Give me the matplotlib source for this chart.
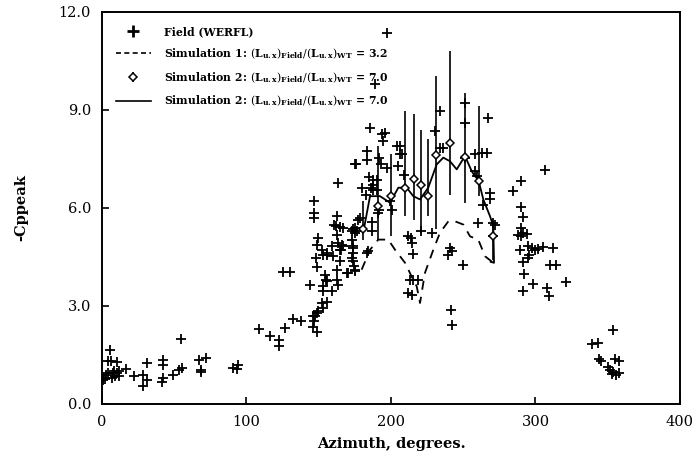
import matplotlib.pyplot as plt
from matplotlib.lines import Line2D

# field data (WERFL)
field_az = [0.5, 0.9, 2.1, 4.4, 6.7, 7.8, 9.0, 10.2, 11.5, 5.5, 4.4, 10.2, 16.4, 22.4, 28.6,
            30.9, 30.9, 28.6, 42.4, 42.4, 42.4, 41.3, 49.3, 53.3, 55.6, 54.7, 67.1, 71.8, 68.5,
            68.5, 90.9, 94.3, 93.2, 3.0, 8.0, 6.0, 12.0,
            108.5, 116.3, 122.7, 122.7, 126.6, 125.5, 130.1, 132.4, 137.8, 143.7, 146.5, 146.7,
            146.7, 145.8, 147.4, 146.7, 146.3, 148.6, 148.6, 149.7, 153.2, 152.0, 155.9, 152.7,
            154.3, 155.0, 155.9, 153.2, 159.0, 162.4, 163.6, 162.4, 148.1, 148.6, 148.6, 149.7,
            152.0, 155.9, 159.0, 155.9, 153.0, 159.7, 164.7, 165.9, 167.0, 164.7, 162.4, 162.9,
            160.6, 164.7, 167.0, 163.6, 175.1, 172.8, 173.9, 173.5, 172.8, 173.9, 170.5, 175.1,
            177.4, 173.9, 175.1, 169.8, 165.2, 163.6, 162.0,
            175.8, 183.2, 183.2, 185.5, 193.6, 195.8, 194.2, 203.9, 206.2, 191.9, 192.9, 197.0,
            205.1, 185.0, 187.8, 190.1, 187.3, 186.0, 187.8, 190.1, 191.9, 191.2, 178.5, 175.1,
            172.8, 176.2, 186.6, 186.6, 183.2, 184.3, 173.9, 174.4, 175.1, 200.5, 199.5, 212.0,
            213.6, 214.3, 215.4, 213.1, 215.4, 218.9, 212.0, 214.3, 220.6, 228.2, 230.4, 233.9,
            236.2, 240.8, 242.0, 239.7, 250.1, 241.3, 242.0, 251.2, 251.2, 251.2, 258.1, 262.8,
            266.2, 267.3, 258.1, 259.3, 260.4, 263.9, 268.5, 268.5, 270.8, 272.0, 270.8, 197.0,
            188.9, 206.2, 207.3, 233.9, 209.0, 180.0, 183.0,
            306.6, 289.7, 284.6, 289.7, 291.1, 289.7, 291.6, 288.2, 294.3, 289.7, 295.0, 297.4,
            299.7, 302.0, 305.4, 311.9, 289.3, 295.7, 295.0, 291.6, 310.0, 314.2, 292.0, 298.1,
            291.6, 307.7, 309.6, 321.1, 353.4, 338.9, 343.5, 344.2, 345.1, 355.0, 358.0, 350.4,
            351.6, 353.9, 355.7, 358.0, 352.7]
field_cp = [0.72, 0.79, 0.76, 0.94, 0.79, 0.94, 0.84, 0.96, 0.84, 1.64, 1.30, 1.28, 1.06, 0.86, 0.89,
            1.25, 0.72, 0.55, 1.33, 1.20, 0.79, 0.68, 0.89, 1.04, 1.09, 1.98, 1.33, 1.40, 1.04,
            0.98, 1.09, 1.20, 1.06, 0.90, 1.00, 1.30, 1.00,
            2.30, 2.07, 1.96, 1.76, 2.32, 4.03, 4.03, 2.59, 2.53, 3.65, 6.21, 5.83,
            5.68, 2.68, 2.70, 2.53, 2.37, 2.19, 2.78, 2.83, 2.94, 3.09, 3.11, 3.45,
            3.96, 3.80, 3.75, 3.60, 3.45, 3.80, 3.65, 4.10, 4.47, 4.19, 4.88, 5.08,
            4.72, 4.57, 4.83, 4.62, 4.55, 4.52, 4.72, 4.88, 4.83, 4.37, 5.18, 5.75,
            5.49, 5.42, 5.39, 6.77, 7.33, 5.03, 4.83, 4.62, 4.47, 4.37, 4.01, 4.11,
            5.64, 5.34, 5.24, 4.01, 4.72, 4.93, 5.46,
            7.36, 7.74, 7.48, 8.46, 8.25, 8.30, 8.05, 7.89, 7.64, 7.54, 7.33, 7.23,
            7.28, 6.95, 6.87, 6.87, 6.69, 6.62, 6.56, 6.54, 5.95, 5.85, 5.70, 5.39,
            5.29, 5.29, 5.56, 5.29, 4.62, 4.67, 4.78, 4.21, 4.06, 5.95, 6.20, 5.13,
            5.08, 4.93, 4.60, 3.80, 3.80, 3.80, 3.40, 3.34, 5.29, 5.24, 8.35, 8.97,
            7.84, 4.78, 4.67, 4.57, 4.26, 2.88, 2.42, 9.22, 8.61, 7.54, 7.64, 7.69,
            7.69, 8.76, 7.13, 6.97, 5.54, 6.10, 6.46, 6.26, 5.54, 5.49, 5.13, 11.37,
            9.79, 7.89, 7.64, 7.84, 7.00, 6.60, 6.40,
            7.16, 6.82, 6.51, 6.03, 5.73, 5.39, 5.24, 5.18, 5.21, 5.13, 4.83, 4.78,
            4.72, 4.74, 4.81, 4.78, 4.70, 4.57, 4.47, 4.33, 4.24, 4.24, 3.99, 3.68,
            3.45, 3.55, 3.31, 3.73, 2.25, 1.84, 1.86, 1.37, 1.30, 1.37, 1.30, 1.14,
            1.04, 0.99, 0.89, 0.96, 0.92]

# simulation 1 (dashed line)
sim1_az = [179.7, 185.5, 191.2, 198.1, 202.8, 209.7, 215.4, 217.8, 220.1, 223.5, 229.3,
           233.9, 239.7, 244.3, 250.1, 254.7, 260.4, 265.1, 270.8]
sim1_cp = [4.11, 4.72, 5.03, 5.03, 4.72, 4.32, 3.80, 3.60, 3.09, 4.01, 4.72,
           5.24, 5.59, 5.59, 5.49, 5.13, 5.03, 4.52, 4.32]

# simulation 2 (diamonds with range bars)
sim2_az = [180.8, 191.2, 199.8, 209.7, 215.9, 220.8, 225.8, 231.1, 240.8, 251.2, 261.1, 270.4]
sim2_cp = [5.34, 6.05, 6.36, 6.62, 6.89, 6.69, 6.36, 7.61, 8.00, 7.57, 6.82, 5.13]
sim2_lo = [5.03, 5.03, 5.13, 5.75, 5.64, 5.24, 5.75, 5.34, 6.40, 6.16, 6.36, 4.40]
sim2_hi = [6.20, 7.89, 7.64, 8.97, 8.87, 8.40, 8.10, 10.04, 10.80, 9.53, 9.12, 5.60]

# simulation 2 (solid line)
line_az = [181.0, 185.5, 192.4, 199.3, 205.1, 210.9, 215.4, 220.1, 225.8, 231.6, 236.2,
           240.8, 245.5, 251.2, 255.8, 258.1, 260.4, 263.9, 268.5, 270.8, 271.3, 269.0]
line_cp = [5.30, 6.36, 6.36, 6.16, 6.62, 6.62, 6.36, 6.26, 6.62, 7.33, 7.54,
           7.43, 7.18, 7.59, 7.13, 6.97, 6.87, 6.26, 5.75, 5.44, 4.32, 4.35]

plt.rcParams['font.family'] = 'DejaVu Serif'
plt.rcParams['mathtext.fontset'] = 'dejavuserif'

fig = plt.figure(figsize=(7, 4.59), dpi=100)
ax = fig.add_axes([0.1457, 0.12, 0.8257, 0.854])

ax.plot(field_az, field_cp, '+', color='black', markersize=7, mew=1.3, linestyle='none')
ax.plot(sim1_az, sim1_cp, '--', color='black', lw=1.3, dashes=(5, 4))
yerr = [[c - l for c, l in zip(sim2_cp, sim2_lo)], [h - c for c, h in zip(sim2_cp, sim2_hi)]]
eb = ax.errorbar(sim2_az, sim2_cp, yerr=yerr, fmt='D', color='black', mfc='white',
                 markersize=4.5, mew=1.1, elinewidth=1.2, capsize=0)
ax.plot(line_az, line_cp, '-', color='black', lw=1.3)

ax.set_xlim(0, 400)
ax.set_ylim(0, 12)
ax.set_xticks([0, 100, 200, 300, 400])
ax.set_yticks([0, 3, 6, 9, 12])
ax.set_yticklabels(['0.0', '3.0', '6.0', '9.0', '12.0'])
ax.tick_params(direction='in', length=5, width=1.2, labelsize=10.5, pad=8)
for s in ax.spines.values():
    s.set_linewidth(1.4)

ax.set_xlabel('Azimuth, degrees.', fontsize=10.5, fontweight='bold', labelpad=6)
ax.set_ylabel('-Cppeak', fontsize=10.5, fontweight='bold', labelpad=22)

ratio = r'$(\mathbf{L}_{\mathbf{u.x}})_{\mathbf{Field}}/(\mathbf{L}_{\mathbf{u.x}})_{\mathbf{WT}}$'
handles = [Line2D([], [], marker='+', color='black', linestyle='none', markersize=9, mew=2),
           Line2D([], [], color='black', linestyle='--', lw=1.2, dashes=(3, 2)),
           eb,
           Line2D([], [], color='black', lw=1.2)]
labels = ['Field (WERFL)',
          'Simulation 1: ' + ratio + r' = 3.2',
          'Simulation 2: ' + ratio + r' = 7.0',
          'Simulation 2: ' + ratio + r' = 7.0']
leg = ax.legend(handles, labels, loc='upper left', frameon=False,
                prop={'weight': 'bold', 'size': 7.8}, handlelength=3.2, handletextpad=1.2,
                labelspacing=0.85, borderaxespad=0.9, bbox_to_anchor=(0.0, 1.0))

fig.savefig('out.png', dpi=100)
